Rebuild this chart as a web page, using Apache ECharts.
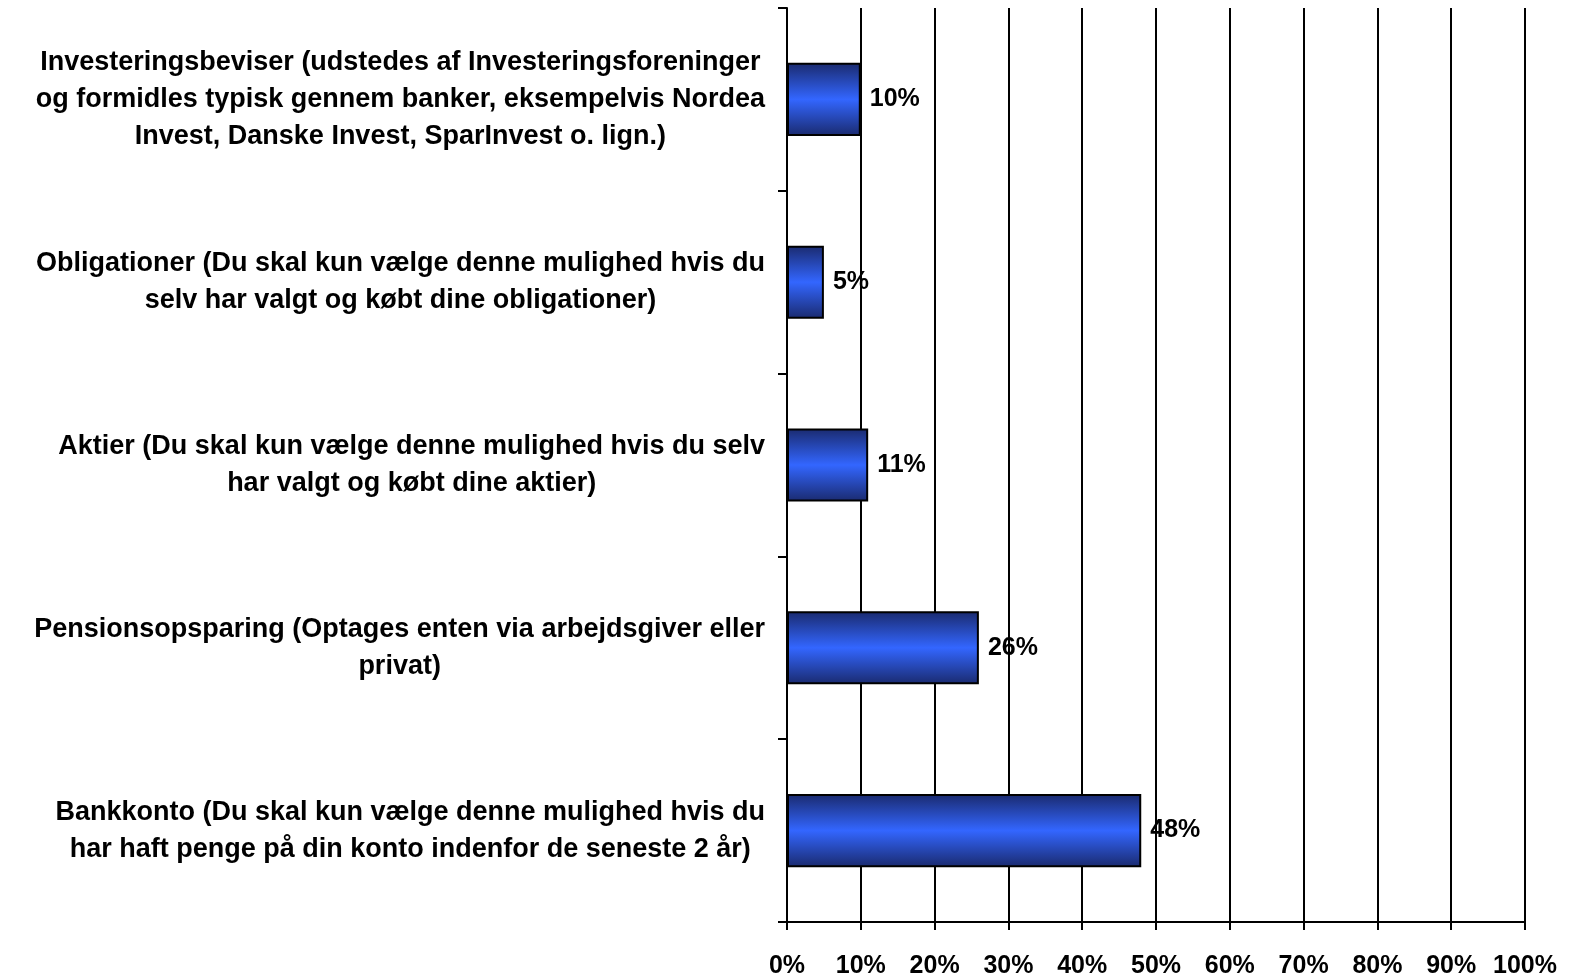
<!DOCTYPE html>
<html>
<head>
<meta charset="utf-8">
<script src="https://cdn.jsdelivr.net/npm/echarts@6/dist/echarts.min.js"></script>
<style>
  html, body { margin: 0; padding: 0; background: #fff; }
  #chart { width: 1569px; height: 975px; }
</style>
</head>
<body>
<div id="chart"></div>
<script>
var categories = [
  'Investeringsbeviser (udstedes af Investeringsforeninger\nog formidles typisk gennem banker, eksempelvis Nordea\nInvest, Danske Invest, SparInvest o. lign.)',
  'Obligationer (Du skal kun vælge denne mulighed hvis du\nselv har valgt og købt dine obligationer)',
  'Aktier (Du skal kun vælge denne mulighed hvis du selv\nhar valgt og købt dine aktier)',
  'Pensionsopsparing (Optages enten via arbejdsgiver eller\nprivat)',
  'Bankkonto (Du skal kun vælge denne mulighed hvis du\nhar haft penge på din konto indenfor de seneste 2 år)'
];
var values = [10, 5, 11, 26, 48];

var chart = echarts.init(document.getElementById('chart'));
var fontFamily = '"Liberation Sans", Arial, sans-serif';

var option = {
  animation: false,
  grid: {
    left: 787,
    right: 44,
    top: 8,
    bottom: 53,
    outerBoundsMode: 'none'
  },
  xAxis: {
    type: 'value',
    min: 0,
    max: 100,
    interval: 10,
    axisLine: { show: true, lineStyle: { color: '#000', width: 2 } },
    axisTick: { show: true, length: 8, lineStyle: { color: '#000', width: 2 } },
    splitLine: { show: true, lineStyle: { color: '#000', width: 2 } },
    axisLabel: {
      formatter: '{value}%',
      color: '#000',
      fontFamily: fontFamily,
      fontWeight: 'bold',
      fontSize: 25,
      margin: 32
    }
  },
  yAxis: {
    type: 'category',
    inverse: true,
    data: categories,
    axisLine: { show: true, lineStyle: { color: '#000', width: 2 } },
    axisTick: { show: true, length: 9, lineStyle: { color: '#000', width: 2 } },
    axisLabel: {
      align: 'right',
      margin: 22,
      // each line centred inside the right-aligned block
      formatter: function (v) {
        return v.split('\n').map(function (l) { return '{c|' + l + '}'; }).join('\n');
      },
      rich: {
        c: {
          align: 'center',
          color: '#000',
          fontFamily: fontFamily,
          fontWeight: 'bold',
          fontSize: 27,
          lineHeight: 37
        }
      }
    }
  },
  series: [
    {
      type: 'bar',
      data: values,
      barWidth: '40%',
      itemStyle: {
        borderColor: '#000',
        borderWidth: 2,
        color: new echarts.graphic.LinearGradient(0, 0, 0, 1, [
          { offset: 0, color: '#1a2a6e' },
          { offset: 0.5, color: '#3366ff' },
          { offset: 1, color: '#1a2a6e' }
        ])
      },
      label: {
        show: true,
        position: 'right',
        distance: 9,
        formatter: '{c}%',
        color: '#000',
        fontFamily: fontFamily,
        fontWeight: 'bold',
        fontSize: 25
      }
    }
  ]
};

chart.setOption(option);
</script>
</body>
</html>
